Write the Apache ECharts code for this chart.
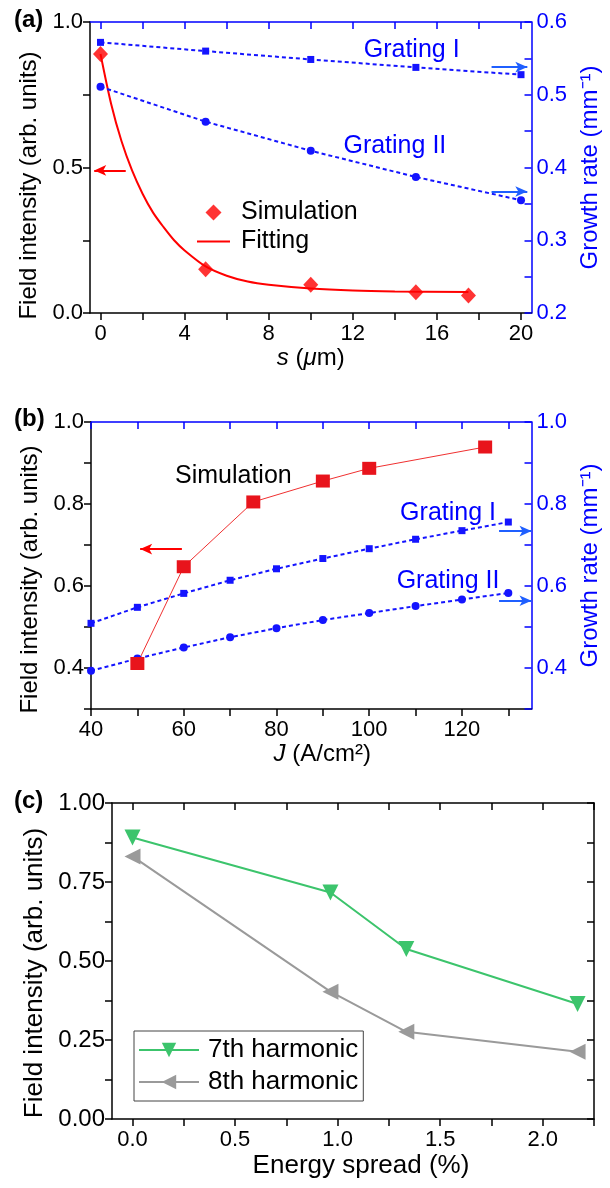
<!DOCTYPE html>
<html><head><meta charset="utf-8">
<script src="https://cdn.jsdelivr.net/npm/echarts@6/dist/echarts.min.js"></script>
<style>html,body{margin:0;padding:0;background:#fff}#c{width:610px;height:1188px}</style>
</head><body><div id="c"></div>
<script>
// ---------- data ----------
// panel (a)
const sSim = [0, 5, 10, 15, 17.5];
const fieldSimA = [0.89, 0.15, 0.097, 0.071, 0.06];
const sFit = [0, 0.5, 1, 1.5, 2, 2.5, 3, 3.5, 4, 5, 6, 7, 8, 10, 12, 14, 17.5];
const fieldFit = [0.89, 0.72, 0.59, 0.49, 0.41, 0.345, 0.295, 0.25, 0.215, 0.16, 0.128, 0.108, 0.097, 0.084, 0.077, 0.074, 0.072];
const sGrating = [0, 5, 10, 15, 20];
const growthIa = [0.572, 0.560, 0.5485, 0.5376, 0.5276];
const growthIIa = [0.511, 0.463, 0.423, 0.387, 0.355];
// panel (b)
const jSim = [50, 60, 75, 90, 100, 125];
const fieldSimB = [0.411, 0.647, 0.805, 0.856, 0.887, 0.939];
const jGrating = [40, 50, 60, 70, 80, 90, 100, 110, 120, 130];
const growthIb = [0.509, 0.548, 0.582, 0.614, 0.642, 0.667, 0.691, 0.714, 0.735, 0.756];
const growthIIb = [0.393, 0.423, 0.450, 0.475, 0.497, 0.517, 0.534, 0.551, 0.567, 0.583];
// panel (c)
const spread = [0, 0.965, 1.335, 2.17];
const h7 = [0.891, 0.717, 0.538, 0.364];
const h8 = [0.831, 0.403, 0.276, 0.213];
// tick labels / tick positions
const aXLabels = [0, 4, 8, 12, 16, 20];
const aXTicks = [0, 2, 4, 6, 8, 10, 12, 14, 16, 18, 20];
const aYLLabels = [0, 0.5, 1.0];
const aYLTicks = [0, 0.25, 0.5, 0.75, 1.0];
const aYRLabels = [0.2, 0.3, 0.4, 0.5, 0.6];
const aYRTicks = [0.2, 0.25, 0.3, 0.35, 0.4, 0.45, 0.5, 0.55, 0.6];
const bXLabels = [40, 60, 80, 100, 120];
const bXTicks = [40, 50, 60, 70, 80, 90, 100, 110, 120, 130];
const bYLabels = [0.4, 0.6, 0.8, 1.0];
const bYTicks = [0.3, 0.4, 0.5, 0.6, 0.7, 0.8, 0.9, 1.0];
const cXLabels = [0, 0.5, 1.0, 1.5, 2.0];
const cXTicks = [0, 0.25, 0.5, 0.75, 1.0, 1.25, 1.5, 1.75, 2.0, 2.25];
const cYLabels = [0, 0.25, 0.5, 0.75, 1.0];
const cYTicks = [0, 0.125, 0.25, 0.375, 0.5, 0.625, 0.75, 0.875, 1.0];

const zip = (xs, ys) => xs.map((x, i) => [x, ys[i]]);
const FONT = 'Liberation Sans, Arial, sans-serif';
const BLUE = '#0000ff';
const MBLUE = '#1414ff';
const RED = '#ff0000';
const GREEN = '#3cc46c';
const GRAY = '#9a9a9a';

function xAx(grid, min, max, pos, color, labels, ticks, labelFmt, extra) {
  const isBottom = pos === 'bottom';
  return Object.assign({
    type: 'value', gridIndex: grid, min: min, max: max, position: pos,
    axisLine: { show: true, onZero: false, lineStyle: { color: color, width: 1.5 } },
    axisTick: { show: true, inside: !isBottom, length: 7, customValues: ticks, lineStyle: { color: color, width: 1.5 } },
    axisLabel: isBottom ? { show: true, customValues: labels, formatter: labelFmt, color: '#000', fontSize: 22, fontFamily: FONT, margin: 10 } : { show: false },
    splitLine: { show: false }
  }, extra || {});
}
function yAx(grid, min, max, pos, color, labels, ticks, labelFmt, inside, extra, labelColor, fs) {
  return Object.assign({
    type: 'value', gridIndex: grid, min: min, max: max, position: pos,
    axisLine: { show: true, onZero: false, lineStyle: { color: color, width: 1.5 } },
    axisTick: { show: true, inside: inside, length: 7, customValues: ticks, lineStyle: { color: color, width: 1.5 } },
    axisLabel: labels ? { show: true, customValues: labels, formatter: labelFmt, color: labelColor || '#000', fontSize: fs || 22, fontFamily: FONT, margin: inside ? 5 : 7 } : { show: false },
    splitLine: { show: false }
  }, extra || {});
}
const f1 = v => Number(v).toFixed(1);
const f2 = v => Number(v).toFixed(2);

const txt = (t, c, size) => ({ show: true, formatter: t, color: c, fontSize: size, fontFamily: FONT, position: 'inside' });
const mp = (x, y, t, c, size) => ({ coord: [x, y], symbol: 'rect', symbolSize: 1, itemStyle: { color: 'rgba(0,0,0,0)' }, label: txt(t, c, size) });
const arrowLine = (color, pairs) => ({
  silent: true, symbol: ['none', 'arrow'], symbolSize: [8, 12], animation: false,
  lineStyle: { color: color, width: 2, type: 'solid' }, label: { show: false },
  emphasis: { disabled: true },
  data: pairs.map(p => [{ coord: [p[0], p[2]] }, { coord: [p[1], p[2]] }])
});

const option = {
  animation: false,
  backgroundColor: '#fff',
  textStyle: { fontFamily: FONT },
  grid: [
    { left: 90, top: 22, width: 448, height: 291 },
    { left: 91, top: 422, width: 441, height: 287 },
    { left: 112, top: 803, width: 482, height: 316 }
  ],
  xAxis: [
    xAx(0, -0.5, 20.5, 'bottom', '#000', aXLabels, aXTicks, v => String(v), {
      name: '{i|s} ({i|μ}m)', nameLocation: 'middle', nameGap: 32,
      nameTextStyle: { fontSize: 24, color: '#000', fontFamily: FONT, rich: { i: { fontStyle: 'italic', fontSize: 24, fontFamily: FONT } } }
    }),
    xAx(0, -0.5, 20.5, 'top', BLUE, null, aXTicks),
    xAx(1, 40, 135, 'bottom', '#000', bXLabels, bXTicks, v => String(v), {
      name: '{i|J} (A/cm²)', nameLocation: 'middle', nameGap: 29,
      nameTextStyle: { fontSize: 24, color: '#000', fontFamily: FONT, padding: [0, 0, 0, 22], rich: { i: { fontStyle: 'italic', fontSize: 24, fontFamily: FONT } } }
    }),
    xAx(1, 40, 135, 'top', BLUE, null, bXTicks),
    xAx(2, -0.1, 2.25, 'bottom', '#000', cXLabels, cXTicks, f1, {
      name: 'Energy spread (%)', nameLocation: 'middle', nameGap: 34,
      nameTextStyle: { fontSize: 26, color: '#000', fontFamily: FONT, padding: [0, 0, 0, 16] }
    }),
    xAx(2, -0.1, 2.25, 'top', '#000', null, cXTicks)
  ],
  yAxis: [
    yAx(0, 0, 1, 'left', '#000', aYLLabels, aYLTicks, f1, false, {
      name: 'Field intensity (arb. units)', nameLocation: 'middle', nameGap: 41,
      nameTextStyle: { fontSize: 24, color: '#000', fontFamily: FONT, padding: [0, 36, 0, 0] }
    }),
    yAx(0, 0.2, 0.6, 'right', BLUE, aYRLabels, aYRTicks, f1, true, {
      name: 'Growth rate (mm⁻¹)', nameLocation: 'middle', nameGap: 38,
      nameTextStyle: { fontSize: 24, color: BLUE, fontFamily: FONT }
    }, BLUE),
    yAx(1, 0.3, 1.0, 'left', '#000', bYLabels, bYTicks, f1, false, {
      name: 'Field intensity (arb. units)', nameLocation: 'middle', nameGap: 42,
      nameTextStyle: { fontSize: 24, color: '#000', fontFamily: FONT, padding: [0, 28, 0, 0] }
    }),
    yAx(1, 0.3, 1.0, 'right', BLUE, bYLabels, bYTicks, f1, true, {
      name: 'Growth rate (mm⁻¹)', nameLocation: 'middle', nameGap: 44,
      nameTextStyle: { fontSize: 24, color: BLUE, fontFamily: FONT }
    }, BLUE),
    yAx(2, 0, 1, 'left', '#000', cYLabels, cYTicks, f2, false, {
      name: 'Field intensity (arb. units)', nameLocation: 'middle', nameGap: 62,
      nameTextStyle: { fontSize: 26, color: '#000', fontFamily: FONT, padding: [0, 24, 0, 0] }
    }, '#000', 24),
    yAx(2, 0, 1, 'right', '#000', null, cYTicks, f2, true)
  ],
  legend: [
    {
      orient: 'vertical', left: 192, top: 195, itemWidth: 33, itemHeight: 16, itemGap: 4,
      selectedMode: false, symbolKeepAspect: true,
      data: [
        { name: 'Simulation', icon: 'path://M8 0L16 8L8 16L0 8Z' },
        { name: 'Fitting', icon: 'path://M0 0H30V2H0Z' }
      ],
      textStyle: { fontSize: 25, color: '#000', fontFamily: FONT, padding: [0, 0, 0, 6] }
    },
    {
      orient: 'vertical', left: 134, top: 1031, itemWidth: 60, itemHeight: 18, itemGap: 6,
      padding: [6, 5, 6, 4], borderColor: '#444', borderWidth: 1,
      selectedMode: false, data: ['7th harmonic', '8th harmonic'],
      textStyle: { fontSize: 26, color: '#000', fontFamily: FONT, padding: [0, 0, 0, 4] }
    }
  ],
  graphic: [
    { type: 'text', left: 14, top: 8, style: { text: '(a)', font: 'bold 24px ' + FONT, fill: '#000' } },
    { type: 'text', left: 14, top: 407, style: { text: '(b)', font: 'bold 24px ' + FONT, fill: '#000' } },
    { type: 'text', left: 14, top: 789, style: { text: '(c)', font: 'bold 24px ' + FONT, fill: '#000' } }
  ],
  series: [
    // ---- (a)
    {
      name: 'Grating I', type: 'line', xAxisIndex: 0, yAxisIndex: 1, data: zip(sGrating, growthIa),
      symbol: 'rect', symbolSize: 7, itemStyle: { color: MBLUE }, lineStyle: { color: MBLUE, width: 2, type: [4, 3] },
      markPoint: { silent: true, data: [mp(14.8, 0.561, 'Grating I', BLUE, 25), mp(14.0, 0.43, 'Grating II', BLUE, 25)] },
      markLine: arrowLine('#1f5fff', [[18.6, 20.3, 0.538], [18.6, 20.3, 0.367]])
    },
    {
      name: 'Grating II', type: 'line', xAxisIndex: 0, yAxisIndex: 1, data: zip(sGrating, growthIIa),
      symbol: 'circle', symbolSize: 8, itemStyle: { color: MBLUE }, lineStyle: { color: MBLUE, width: 2, type: [4, 3] }
    },
    {
      name: 'Fitting', type: 'line', xAxisIndex: 0, yAxisIndex: 0, data: zip(sFit, fieldFit),
      symbol: 'none', smooth: 0.3, lineStyle: { color: RED, width: 2 }, itemStyle: { color: RED }, z: 2,
      markLine: arrowLine(RED, [[1.2, -0.3, 0.49]])
    },
    {
      name: 'Simulation', type: 'scatter', xAxisIndex: 0, yAxisIndex: 0, data: zip(sSim, fieldSimA),
      symbol: 'diamond', symbolSize: [15, 16], itemStyle: { color: RED }, z: 3
    },
    // ---- (b)
    {
      name: 'Grating I (b)', type: 'line', xAxisIndex: 2, yAxisIndex: 3, data: zip(jGrating, growthIb),
      symbol: 'rect', symbolSize: 7, itemStyle: { color: MBLUE }, lineStyle: { color: MBLUE, width: 2, type: [4, 3] },
      markPoint: { silent: true, data: [mp(117, 0.779, 'Grating I', BLUE, 25), mp(117, 0.611, 'Grating II', BLUE, 25)] },
      markLine: arrowLine('#1f5fff', [[128, 135, 0.734], [128, 135, 0.564]])
    },
    {
      name: 'Grating II (b)', type: 'line', xAxisIndex: 2, yAxisIndex: 3, data: zip(jGrating, growthIIb),
      symbol: 'circle', symbolSize: 8, itemStyle: { color: MBLUE }, lineStyle: { color: MBLUE, width: 2, type: [4, 3] }
    },
    {
      name: 'Simulation (b)', type: 'line', xAxisIndex: 2, yAxisIndex: 2, data: zip(jSim, fieldSimB),
      symbol: 'rect', symbolSize: [14, 13], itemStyle: { color: '#e8141c' }, lineStyle: { color: '#f03030', width: 1 }, z: 3,
      markPoint: { silent: true, data: [mp(70.7, 0.868, 'Simulation', '#000', 25)] },
      markLine: arrowLine(RED, [[59.6, 50.6, 0.69]])
    },
    // ---- (c)
    {
      name: '7th harmonic', type: 'line', xAxisIndex: 4, yAxisIndex: 4, data: zip(spread, h7),
      symbol: 'triangle', symbolRotate: 180, symbolSize: 16, itemStyle: { color: GREEN }, lineStyle: { color: GREEN, width: 2 }
    },
    {
      name: '8th harmonic', type: 'line', xAxisIndex: 4, yAxisIndex: 4, data: zip(spread, h8),
      symbol: 'triangle', symbolRotate: 90, symbolSize: 16, itemStyle: { color: GRAY }, lineStyle: { color: GRAY, width: 2 }
    }
  ]
};
const chart = echarts.init(document.getElementById('c'), null, { renderer: 'canvas' });
chart.setOption(option);
</script>
</body></html>
